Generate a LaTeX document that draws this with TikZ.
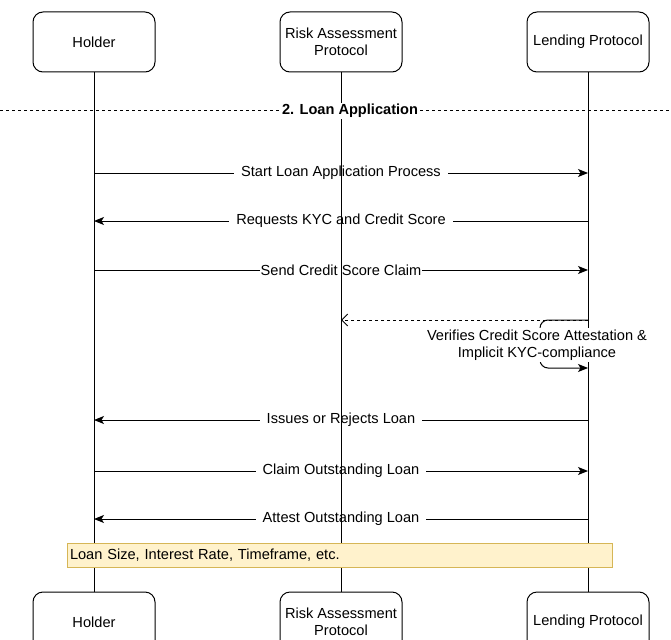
\documentclass[tikz,border=0pt]{standalone}
\usepackage{fontspec}
\setmainfont{Liberation Sans}
\usetikzlibrary{arrows.meta,positioning}
\definecolor{notefill}{HTML}{FFF2CC}
\definecolor{notedraw}{HTML}{D6B656}
\begin{document}
\begin{tikzpicture}[
    x=1pt, y=-1pt,
    font=\fontsize{14.6}{17.5}\selectfont,
    line width=1pt,
    actor/.style={rectangle, draw, rounded corners=10pt, minimum width=122pt, minimum height=60pt, align=center, inner sep=2pt},
    lifeline/.style={draw, line width=1pt},
    msg/.style={-{Stealth[length=10pt,width=8pt,inset=2.5pt]}, line width=1pt},
    reply/.style={-{Straight Barb[length=6pt,width=12pt]}, line width=1pt, dash pattern=on 3pt off 3pt},
    msglabel/.style={fill=white, inner xsep=7pt, inner ysep=1pt, align=center}
]
\useasboundingbox (0,0) rectangle (671,639);

% participants
\node[actor] (holder) at (94,42) {Holder};
\node[actor] (risk) at (341,42) {Risk Assessment\\Protocol};
\node[actor] (lend) at (588,42) {Lending Protocol};
\node[actor] (holderB) at (94,622) {Holder};
\node[actor] (riskB) at (341,622) {Risk Assessment\\Protocol};
\node[actor] (lendB) at (588,622) {Lending Protocol};

% message anchors
\foreach \n/\y in {1/173, 2/221, 3/270, 4/320, 5/368, 6/420, 7/471, 8/519} {
    \coordinate (h\n) at (94,\y);
    \coordinate (r\n) at (341,\y);
    \coordinate (l\n) at (588,\y);
}
\coordinate (loopA) at (540,320);
\coordinate (loopB) at (540,368);

% messages
\draw[msg] (h1) -- (l1) node[msglabel, midway] (m1) {Start Loan Application Process};
\draw[msg] (l2) -- (h2) node[msglabel, midway] (m2) {Requests KYC and Credit Score};
\draw[msg] (h3) -- (l3) node[msglabel, midway, inner xsep=1pt] (m3) {Send Credit Score Claim};
\draw[reply] (l4) -- (r4);
\draw[msg, rounded corners=8pt] (l4) -- (loopA) -- (loopB) -- (l5);
\draw[msg] (l6) -- (h6) node[msglabel, midway] (m6) {Issues or Rejects Loan};
\draw[msg] (h7) -- (l7) node[msglabel, midway] (m7) {Claim Outstanding Loan};
\draw[msg] (l8) -- (h8) node[msglabel, midway] (m8) {Attest Outstanding Loan};

% lifelines
\draw[lifeline] (holder) -- (holderB);
\draw[lifeline] (risk) -- (riskB);
\draw[lifeline] (lend) -- (lendB);

% section divider
\coordinate (divL) at (0,111);
\coordinate (divR) at (671,111);
\draw[dash pattern=on 3pt off 3pt] (divL) -- (divR);
\node[fill=white, inner xsep=2pt, inner ysep=1pt, font=\fontsize{14.6}{17.5}\selectfont\bfseries] (sect) at (350,111) {2. Loan Application};

\node[fill=white, inner sep=1pt, align=center] (verify) at (537,345) {Verifies Credit Score Attestation \&\\Implicit KYC-compliance};

% note
\node[draw=notedraw, fill=notefill, minimum width=545pt, minimum height=24pt,
      text width=539pt, align=left, inner sep=3pt] (note) at (339.5,555)
      {Loan Size, Interest Rate, Timeframe, etc.};
\end{tikzpicture}
\end{document}
